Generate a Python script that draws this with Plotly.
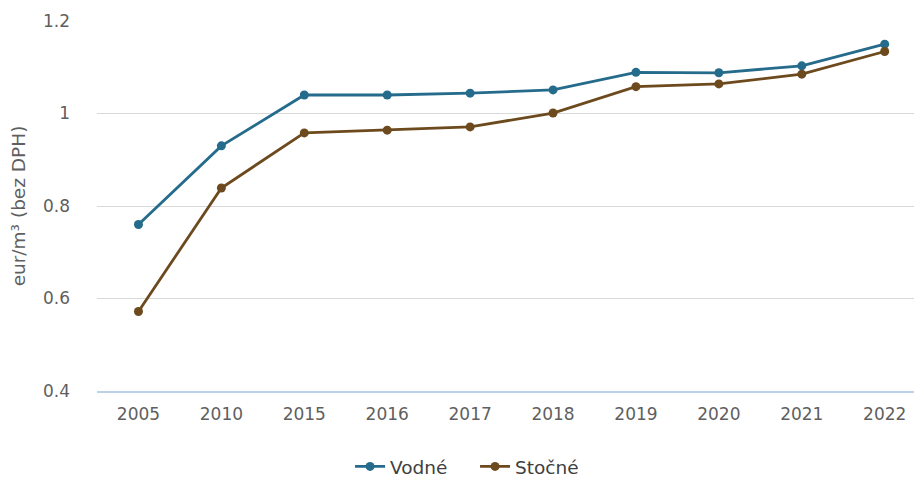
import plotly.graph_objects as go

years = ["2005", "2010", "2015", "2016", "2017", "2018", "2019", "2020", "2021", "2022"]
vodne = [0.76, 0.93, 1.04, 1.04, 1.044, 1.051, 1.089, 1.088, 1.103, 1.150]
stocne = [0.572, 0.839, 0.958, 0.964, 0.971, 1.001, 1.058, 1.064, 1.085, 1.134]

c_blue = "#256b8b"
c_brown = "#6d4a1e"

fig = go.Figure()
fig.add_trace(go.Scatter(x=years, y=vodne, name="Vodné", mode="lines+markers",
                         line=dict(color=c_blue, width=2.8), marker=dict(size=9, color=c_blue)))
fig.add_trace(go.Scatter(x=years, y=stocne, name="Stočné", mode="lines+markers",
                         line=dict(color=c_brown, width=2.8), marker=dict(size=9, color=c_brown)))

# page has an 8px body margin, so the figure is sized/offset to fit the 922x477 window
fig.update_layout(
    width=914, height=469,
    margin=dict(l=89, r=0, t=13, b=86, autoexpand=False),
    paper_bgcolor="white", plot_bgcolor="white",
    font=dict(family="DejaVu Sans", size=16, color="#5f5f5f"),
    showlegend=True,
    legend=dict(orientation="h", x=0.511, xref="container", xanchor="center",
                y=-0.205, yanchor="middle", entrywidth=80,
                font=dict(size=18.5, color="#404040")),
    xaxis=dict(type="category", range=[-0.5, 9.45], showgrid=False, automargin=False,
               showline=True, linecolor="#bdd0ea", linewidth=1.5, ticks="",
               ticklabelstandoff=7,
               tickfont=dict(size=17, color="#5f5f5f")),
    yaxis=dict(range=[0.4, 1.2], tickvals=[0.4, 0.6, 0.8, 1.0, 1.2],
               ticktext=["0.4", "0.6", "0.8", "1", "1.2"], automargin=False,
               showgrid=True, gridcolor="#d9d9d9", gridwidth=1, zeroline=False,
               ticklabelstandoff=26, tickfont=dict(size=17, color="#5f5f5f"),
               title=dict(text="eur/m³ (bez DPH)", standoff=14, font=dict(size=18.5, color="#5f5f5f"))),
)

fig.write_html("out.html")
